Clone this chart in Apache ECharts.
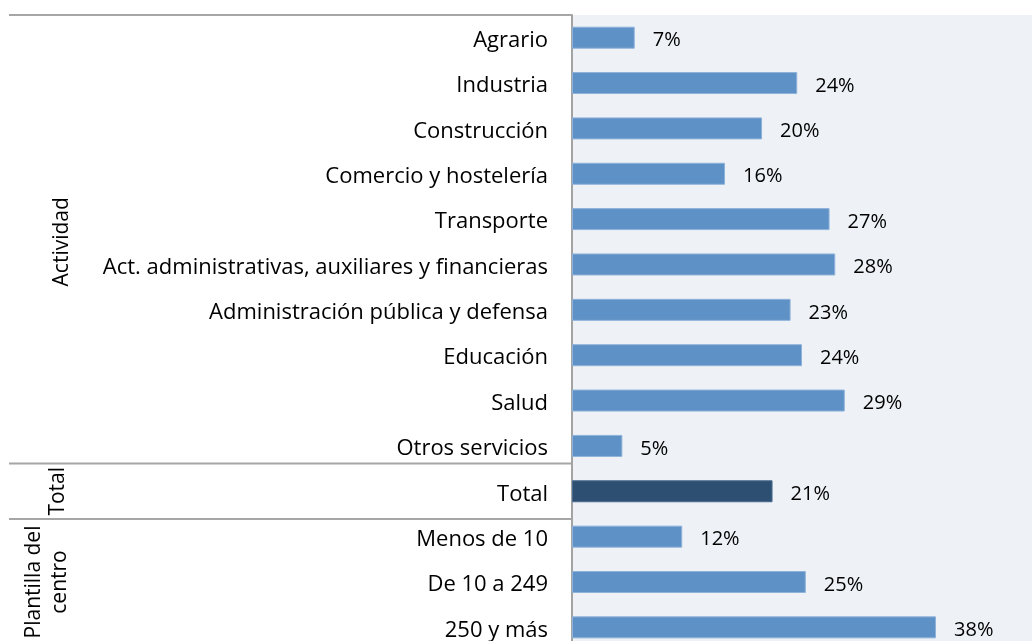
<!DOCTYPE html>
<html>
<head>
<meta charset="utf-8">
<script src="https://cdn.jsdelivr.net/npm/echarts@6/dist/echarts.min.js"></script>
<style>
    html, body { margin: 0; padding: 0; overflow: hidden; background: #fff; }
    #chart { width: 1032px; height: 670px; }
</style>
</head>
<body>
<div id="chart"></div>
<script>
    // categorias (de arriba a abajo) y valores en %
    var categories = ['Agrario', 'Industria', 'Construcción', 'Comercio y hostelería', 'Transporte',
        'Act. administrativas, auxiliares y financieras', 'Administración pública y defensa',
        'Educación', 'Salud', 'Otros servicios', 'Total', 'Menos de 10', 'De 10 a 249', '250 y más'];
    var values = [6.6, 23.7, 20.0, 16.1, 27.1, 27.7, 23.0, 24.2, 28.7, 5.3, 21.1, 11.6, 24.6, 38.3];
    var groupNames = ['Actividad', 'Total', 'Plantilla del\ncentro'];
    var groupSizes = [10, 1, 3];
    var highlight = 'Total';

    var FONT = '"Open Sans"';
    var chart = echarts.init(document.getElementById('chart'));

    var barData = values.map(function (v, i) {
        var dark = categories[i] === highlight;
        return {
            value: v,
            itemStyle: {
                color: dark ? '#2D4F72' : '#5E91C5',
                borderColor: dark ? '#4A6B8E' : '#8FB2DA',
                borderWidth: 1
            }
        };
    });

    chart.setOption({
        animation: false,
        grid: {
            left: 572, top: 15, right: 0, height: 14 * 45.36,
            show: true, backgroundColor: '#EEF2F6', borderWidth: 0
        },
        xAxis: { type: 'value', min: 0, max: 48.4, show: false },
        yAxis: {
            type: 'category',
            inverse: true,
            data: categories,
            axisLine: { lineStyle: { color: '#A3A3A3', width: 2 } },
            axisTick: { show: false },
            axisLabel: {
                color: '#000', fontSize: 22, fontFamily: FONT, margin: 24,
                verticalAlign: 'top', lineHeight: 6
            }
        },
        series: [{
            type: 'bar',
            data: barData,
            barWidth: 22,
            label: {
                show: true,
                position: 'right',
                distance: 18,
                color: '#000',
                fontSize: 20,
                fontFamily: FONT,
                verticalAlign: 'top',
                lineHeight: 6,
                formatter: function (p) { return Math.round(p.value) + '%'; }
            }
        }]
    });

    // separadores y títulos de grupo en la zona de etiquetas
    var c0 = chart.convertToPixel({ yAxisIndex: 0 }, categories[0]);
    var c1 = chart.convertToPixel({ yAxisIndex: 0 }, categories[1]);
    var band = c1 - c0;
    var axisX = chart.convertToPixel({ xAxisIndex: 0 }, 0);
    var groupX = [62, 58, 47];
    var lineShift = [0, -5, 5];   // como en el original, las líneas no caen justo en el borde
    var elements = [];
    var start = 0;
    groupSizes.forEach(function (n, g) {
        var top = chart.convertToPixel({ yAxisIndex: 0 }, categories[start]) - band / 2;
        var bottom = chart.convertToPixel({ yAxisIndex: 0 }, categories[start + n - 1]) + band / 2;
        var ly = top + lineShift[g];
        elements.push({
            type: 'line',
            shape: { x1: 9, y1: ly, x2: axisX, y2: ly },
            style: { stroke: '#A6A6A6', lineWidth: 2 }
        });
        elements.push({
            type: 'text',
            x: groupX[g], y: (top + bottom) / 2,
            rotation: Math.PI / 2,
            style: {
                text: groupNames[g], fill: '#000', fontSize: 21, fontFamily: FONT,
                align: 'center', verticalAlign: 'middle', lineHeight: 26
            }
        });
        start += n;
    });
    chart.setOption({ graphic: elements });
</script>
</body>
</html>
